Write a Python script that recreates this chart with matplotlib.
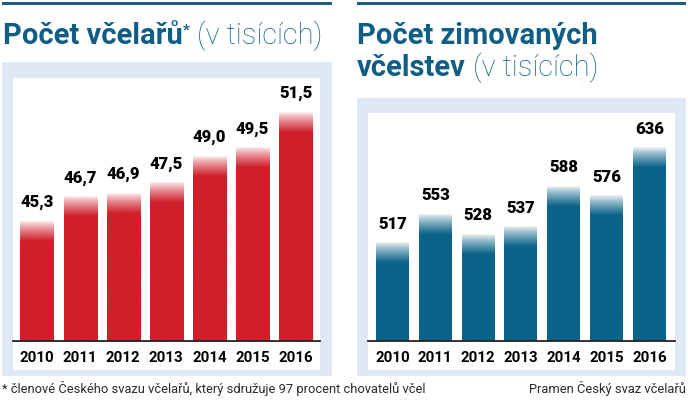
import numpy as np
import matplotlib.pyplot as plt
from matplotlib.patches import Rectangle
from matplotlib.colors import to_rgb
from matplotlib import font_manager

W, H = 688, 408

years = ['2010', '2011', '2012', '2013', '2014', '2015', '2016']
vcelari = [45.3, 46.7, 46.9, 47.5, 49.0, 49.5, 51.5]
vcelstva = [517, 553, 528, 537, 588, 576, 636]

RED = '#cf1f2a'
BLUE = '#0a6389'
PANEL = '#dee9f5'
TITLE = '#105e85'

fonts = font_manager.fontManager.ttflist
names = {f.name for f in fonts}
NARROW = 'Liberation Sans Narrow' if 'Liberation Sans Narrow' in names else 'Roboto'

# heaviest available weight for the value labels
HEAVY, HEAVY_W = 'Roboto', 'bold'
for fam in ['Roboto', 'Lato', 'Open Sans', 'Inter', 'Noto Sans']:
    ws = [f.weight for f in fonts if f.name == fam and isinstance(f.weight, int)]
    if ws and max(ws) >= 800:
        HEAVY, HEAVY_W = fam, max(ws)
        break

fig = plt.figure(figsize=(W / 100, H / 100), dpi=100)


def px_rect(x0, y0, x1, y1, color):
    # rectangle in pixel coords (y from top)
    fig.add_artist(Rectangle((x0 / W, 1 - y1 / H), (x1 - x0) / W, (y1 - y0) / H,
                             transform=fig.transFigure, color=color, lw=0, zorder=0))


def px_ax(x0, y0, x1, y1):
    return fig.add_axes([x0 / W, 1 - y1 / H, (x1 - x0) / W, (y1 - y0) / H])


# top rules
px_rect(2, 2, 332, 5, '#1d5d85')
px_rect(357, 2, 686, 5, '#1d5d85')

# panels
px_rect(2, 62, 332, 376, PANEL)
px_rect(13, 78, 320, 370, 'white')
px_rect(357, 98, 686, 376, PANEL)
px_rect(368, 113, 675, 370, 'white')


def gradient_bars(ax, values, color, ymin, fade_px, ax_h_px, ymax, fmt):
    fade = fade_px / ax_h_px * (ymax - ymin)
    rgb = np.array(to_rgb(color))
    for i, v in enumerate(values):
        y = np.linspace(ymin, v, 400)
        a = np.clip((v - y) / fade, 0.0, 1.0) ** 0.8 * 0.95 + 0.05
        img = np.ones((400, 1, 4))
        img[:, 0, :3] = rgb
        img[:, 0, 3] = a
        ax.imshow(img, extent=(i - 0.385, i + 0.385, ymin, v), origin='lower',
                  aspect='auto', interpolation='bilinear', zorder=2)
        ax.annotate(fmt(v), (i, v), xytext=(0, 8), textcoords='offset points',
                    ha='center', va='bottom', fontsize=12, fontweight=HEAVY_W,
                    family=HEAVY, color='black')


def style(ax, xlim, ylim):
    ax.set_xlim(*xlim)
    ax.set_ylim(*ylim)
    ax.set_facecolor('none')
    for s in ['top', 'right', 'left']:
        ax.spines[s].set_visible(False)
    ax.spines['bottom'].set_color('#222222')
    ax.spines['bottom'].set_linewidth(1.3)
    ax.set_yticks([])
    ax.set_xticks(range(len(years)), years)
    ax.tick_params(axis='x', length=0, pad=7)
    for t in ax.get_xticklabels():
        t.set_fontsize(10.8)
        t.set_fontweight('bold')
        t.set_family(NARROW)


ax1 = px_ax(13, 78, 320, 341)
gradient_bars(ax1, vcelari, RED, 38.5, 20, 263, 53.46,
              lambda v: f'{v:.1f}'.replace('.', ','))
style(ax1, (-0.557, 6.566), (38.5, 53.46))

ax2 = px_ax(368, 113, 675, 341)
gradient_bars(ax2, vcelstva, BLUE, 394, 20, 228, 679.7, lambda v: f'{v:d}')
style(ax2, (-0.572, 6.60), (394, 679.7))

# titles
renderer = fig.canvas.get_renderer()


def title_line(x, y, parts):
    for txt, kw, dy in parts:
        t = fig.text(x / W, 1 - (y + dy) / H, txt, color=TITLE, family=NARROW,
                     va='baseline', ha='left', **kw)
        bb = t.get_window_extent(renderer)
        x += bb.width


title_line(3, 44, [('Počet včelařů', dict(fontsize=21, fontweight='bold'), 0),
                   ('*', dict(fontsize=11, fontweight='bold'), -9),
                   (' (v tisících)', dict(fontsize=21, fontweight='light'), 0)])
title_line(357, 44, [('Počet zimovaných', dict(fontsize=21, fontweight='bold'), 0)])
title_line(357, 76, [('včelstev', dict(fontsize=21, fontweight='bold'), 0),
                     (' (v tisících)', dict(fontsize=21, fontweight='light'), 0)])

# footer
fig.text(2 / W, 1 - 393 / H, '* členové Českého svazu včelařů, který sdružuje 97 procent chovatelů včel',
         family=NARROW, fontsize=9.3, color='#2a2a2a', ha='left', va='baseline')
fig.text(686 / W, 1 - 393 / H, 'Pramen Český svaz včelařů',
         family=NARROW, fontsize=9.3, color='#2a2a2a', ha='right', va='baseline')

fig.savefig('out.png', dpi=100)
